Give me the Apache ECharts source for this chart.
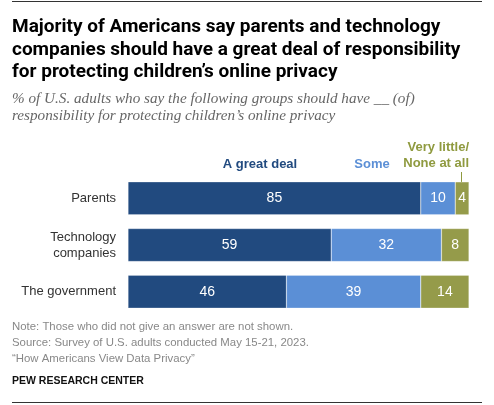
<!DOCTYPE html>
<html>
<head>
<meta charset="utf-8">
<script src="https://cdn.jsdelivr.net/npm/echarts@6/dist/echarts.min.js"></script>
<style>
  html, body { margin: 0; padding: 0; background: #fff; }
  #chart { width: 494px; height: 405px; }
</style>
</head>
<body>
<div id="chart"></div>
<script>
// data
var groups = ['Parents', 'Technology\ncompanies', 'The government'];
var greatDeal = [85, 59, 46];
var some = [10, 32, 39];
var veryLittle = [4, 8, 14];

var colors = ['#214a7f', '#5b8fd6', '#959b4a'];

var myChart = echarts.init(document.getElementById('chart'));

var valueLabel = {
    show: true,
    position: 'inside',
    color: '#fff',
    fontSize: 14,
    fontFamily: 'Liberation Sans'
};

option = {
    animation: false,
    grid: {
        left: 128,
        right: 25,
        top: 175,
        bottom: 90
    },
    xAxis: {
        type: 'value',
        min: 0,
        max: 99,
        show: false
    },
    yAxis: {
        type: 'category',
        inverse: true,
        data: groups,
        axisLine: { show: false },
        axisTick: { show: false },
        axisLabel: {
            color: '#333',
            fontSize: 13,
            fontFamily: 'Liberation Sans',
            lineHeight: 16,
            margin: 12
        }
    },
    series: [{
        name: 'A great deal',
        type: 'bar',
        stack: 'all',
        barWidth: 33,
        color: colors[0],
        itemStyle: { borderColor: '#fff', borderWidth: 0.5, borderType: 'dotted' },
        label: valueLabel,
        data: greatDeal
    }, {
        name: 'Some',
        type: 'bar',
        stack: 'all',
        color: colors[1],
        itemStyle: { borderColor: '#fff', borderWidth: 0.5, borderType: 'dotted' },
        label: valueLabel,
        data: some
    }, {
        name: 'Very little/None at all',
        type: 'bar',
        stack: 'all',
        color: colors[2],
        itemStyle: { borderColor: '#fff', borderWidth: 0.5, borderType: 'dotted' },
        label: valueLabel,
        data: veryLittle
    }],
    graphic: [
        // top rule
        { type: 'line', shape: { x1: 12, y1: 1.5, x2: 482, y2: 1.5 }, style: { stroke: '#333', lineWidth: 1 } },
        {
            type: 'text', left: 12, top: 16,
            style: {
                text: 'Majority of Americans say parents and technology\ncompanies should have a great deal of responsibility\nfor protecting children\u2019s online privacy',
                font: 'bold 19px Roboto', fill: '#000', lineHeight: 22.5
            }
        },
        {
            type: 'text', left: 12, top: 91,
            style: {
                text: '% of U.S. adults who say the following groups should have __ (of)\nresponsibility for protecting children\u2019s online privacy',
                font: 'italic 15.2px "Liberation Serif"', fill: '#666', lineHeight: 17
            }
        },
        // column labels
        {
            type: 'text', x: 260, y: 164,
            style: { text: 'A great deal', font: 'bold 13px "Liberation Sans"', fill: colors[0], align: 'center', verticalAlign: 'middle' }
        },
        {
            type: 'text', x: 372, y: 164,
            style: { text: 'Some', font: 'bold 13px "Liberation Sans"', fill: colors[1], align: 'center', verticalAlign: 'middle' }
        },
        {
            type: 'text', x: 469, y: 155,
            style: { text: 'Very little/\nNone at all', font: 'bold 13px "Liberation Sans"', fill: '#8f9a3f', align: 'right', verticalAlign: 'middle', lineHeight: 16 }
        },
        { type: 'line', shape: { x1: 461.5, y1: 172, x2: 461.5, y2: 182 }, style: { stroke: '#8f9a3f', lineWidth: 1 } },
        // notes
        {
            type: 'text', left: 12, top: 319,
            style: {
                text: 'Note: Those who did not give an answer are not shown.\nSource: Survey of U.S. adults conducted May 15-21, 2023.\n\u201cHow Americans View Data Privacy\u201d',
                font: '11.4px "Liberation Sans"', fill: '#888', lineHeight: 16
            }
        },
        {
            type: 'text', left: 12, top: 376,
            style: { text: 'PEW RESEARCH CENTER', font: 'bold 10.5px "Liberation Sans"', fill: '#111' }
        },
        { type: 'line', shape: { x1: 12, y1: 402.5, x2: 482, y2: 402.5 }, style: { stroke: '#333', lineWidth: 1 } }
    ]
};

myChart.setOption(option);

window.addEventListener('resize', function() {
    myChart.resize()
})
</script>
</body>
</html>
